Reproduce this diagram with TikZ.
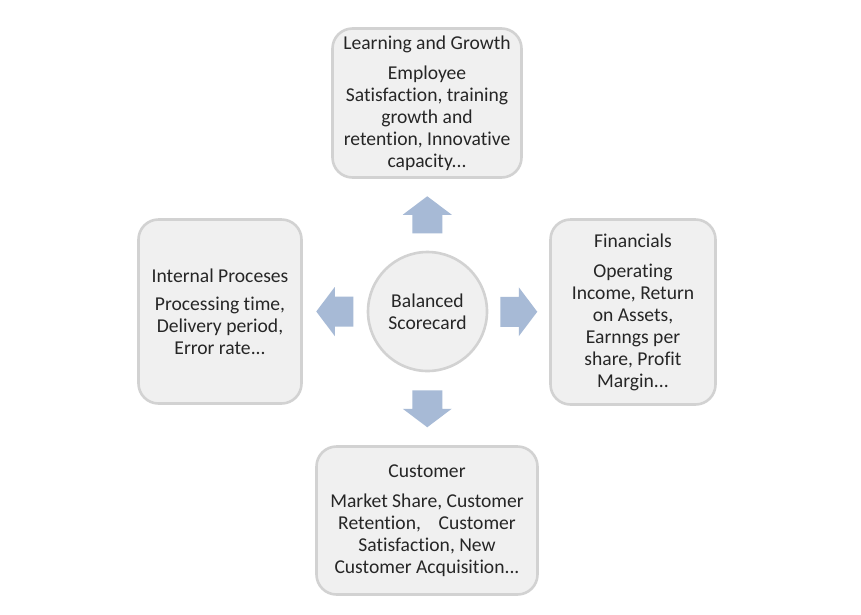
\documentclass[tikz,border=0pt]{standalone}
\usepackage{fontspec}
\setmainfont{Carlito}[Ligatures=NoCommon]
\usetikzlibrary{calc}
\definecolor{boxfill}{HTML}{F0F0F0}
\definecolor{boxline}{HTML}{D2D2D2}
\definecolor{arrowcol}{HTML}{A7BAD6}
\definecolor{txt}{HTML}{262626}
\tikzset{
  card/.style={draw=boxline, line width=2.6pt, fill=boxfill, rounded corners=20pt,
    align=center, inner sep=0pt, text=txt, font=\fontsize{19.6}{22}\selectfont},
  hub/.style={draw=boxline, line width=2.6pt, fill=boxfill, circle, minimum size=119pt,
    align=center, inner sep=0pt, text=txt, font=\fontsize{19.6}{22}\selectfont},
  blockarrow/.pic={\fill[arrowcol] (-18.5,-15) -- (0,-15) -- (0,-24.5) -- (18.5,0) -- (0,24.5) -- (0,15) -- (-18.5,15) -- cycle;}
}
\begin{document}
\begin{tikzpicture}[x=1pt,y=-1pt]
\useasboundingbox[fill=white] (0,0) rectangle (861,614);
\node[hub] (sc) at (427.5,311.5) {Balanced\\Scorecard};
\node[card, minimum width=189pt, minimum height=149pt] (lg) at (427,103)
  {Learning and Growth\\[8pt]Employee\\Satisfaction, training\\growth and\\retention, Innovative\\capacity...};
\node[card, minimum width=165pt, minimum height=185pt] (fi) at (633,312)
  {Financials\\[8pt]Operating\\Income, Return\\on Assets,\\Earnngs per\\share, Profit\\Margin...};
\node[card, minimum width=163pt, minimum height=184pt] (ip) at (220,311.5)
  {Internal Proceses\\[6pt]Processing time,\\Delivery period,\\Error rate...};
\node[card, minimum width=221pt, minimum height=148pt] (cu) at (427,520.5)
  {Customer\\[8pt]Market Share, Customer\\Retention,~~~ Customer\\Satisfaction, New\\Customer Acquisition...};
\path ($(sc.north)!0.5!(lg.south)$) pic[rotate=90] {blockarrow};
\path ($(sc.east)!0.5!(fi.west)$) pic {blockarrow};
\path ($(sc.south)!0.5!(cu.north)$) pic[rotate=-90] {blockarrow};
\path ($(sc.west)!0.5!(ip.east)$) pic[rotate=180] {blockarrow};
\end{tikzpicture}
\end{document}
